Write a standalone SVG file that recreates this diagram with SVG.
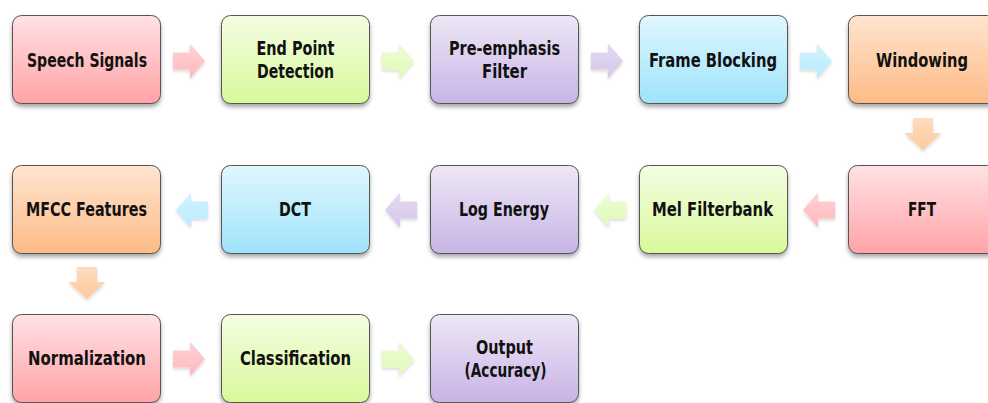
<svg xmlns="http://www.w3.org/2000/svg" width="988" height="403" viewBox="0 0 988 403">
  <defs>
    <style>
      .box { stroke: #555; stroke-width: 1; filter: url(#shadow); }
      .lbl { font-family: "DejaVu Sans Condensed", "DejaVu Sans", "Liberation Sans", sans-serif; font-weight: bold; font-size: 19px; fill: #111; text-anchor: middle; }
      .arr { filter: url(#soft); }
    </style>
    <filter id="shadow" x="-10%" y="-10%" width="120%" height="130%">
      <feDropShadow dx="0" dy="3" stdDeviation="2.2" flood-color="#000" flood-opacity="0.35"/>
    </filter>
    <filter id="soft" x="-20%" y="-20%" width="140%" height="150%">
      <feDropShadow dx="0" dy="2" stdDeviation="1.5" flood-color="#000" flood-opacity="0.15"/>
    </filter>
    <!-- box fills -->
    <linearGradient id="gPink" x1="0" y1="0" x2="0" y2="1"><stop offset="0" stop-color="#ffe1e4"/><stop offset="1" stop-color="#ffa3a6"/></linearGradient>
    <linearGradient id="gGreen" x1="0" y1="0" x2="0" y2="1"><stop offset="0" stop-color="#f4fde3"/><stop offset="1" stop-color="#d8f99a"/></linearGradient>
    <linearGradient id="gPurple" x1="0" y1="0" x2="0" y2="1"><stop offset="0" stop-color="#eee7f6"/><stop offset="1" stop-color="#c8b4e6"/></linearGradient>
    <linearGradient id="gBlue" x1="0" y1="0" x2="0" y2="1"><stop offset="0" stop-color="#e0f7fe"/><stop offset="1" stop-color="#9ee3fb"/></linearGradient>
    <linearGradient id="gOrange" x1="0" y1="0" x2="0" y2="1"><stop offset="0" stop-color="#ffe4cf"/><stop offset="1" stop-color="#fdbb86"/></linearGradient>
    <!-- arrow fills -->
    <linearGradient id="aPink" x1="0" y1="0" x2="0" y2="1"><stop offset="0" stop-color="#ffd3d6"/><stop offset="1" stop-color="#ffb8bb"/></linearGradient>
    <linearGradient id="aGreen" x1="0" y1="0" x2="0" y2="1"><stop offset="0" stop-color="#eefcd6"/><stop offset="1" stop-color="#e0fab4"/></linearGradient>
    <linearGradient id="aPurple" x1="0" y1="0" x2="0" y2="1"><stop offset="0" stop-color="#e4dbf2"/><stop offset="1" stop-color="#d4c6ec"/></linearGradient>
    <linearGradient id="aBlue" x1="0" y1="0" x2="0" y2="1"><stop offset="0" stop-color="#d2f3fe"/><stop offset="1" stop-color="#b6ecfc"/></linearGradient>
    <linearGradient id="aOrange" x1="0" y1="0" x2="0" y2="1"><stop offset="0" stop-color="#ffdcc0"/><stop offset="1" stop-color="#fdc99c"/></linearGradient>
    <!-- block arrow shapes, origin at the tail centre -->
    <path id="arrowRight" d="M0,-8.5 H17 V-17.5 L32,0 L17,17.5 V8.5 H0 Z"/>
    <path id="arrowLeft" d="M0,-8.5 H-17 V-17.5 L-32,0 L-17,17.5 V8.5 H0 Z"/>
    <path id="arrowDown" d="M-10,0 V15 H-18.5 L0,32 L18.5,15 H10 V0 Z"/>
  </defs>

  <!-- connectors -->
  <g id="connectors">
    <use href="#arrowRight" class="arr" x="173" y="61" fill="url(#aPink)"/>
    <use href="#arrowRight" class="arr" x="382" y="61" fill="url(#aGreen)"/>
    <use href="#arrowRight" class="arr" x="591" y="61" fill="url(#aPurple)"/>
    <use href="#arrowRight" class="arr" x="800" y="61" fill="url(#aBlue)"/>
    <use href="#arrowDown" class="arr" x="923" y="118" fill="url(#aOrange)"/>
    <use href="#arrowLeft" class="arr" x="835" y="210" fill="url(#aPink)"/>
    <use href="#arrowLeft" class="arr" x="626" y="210" fill="url(#aGreen)"/>
    <use href="#arrowLeft" class="arr" x="417" y="210" fill="url(#aPurple)"/>
    <use href="#arrowLeft" class="arr" x="208" y="210" fill="url(#aBlue)"/>
    <use href="#arrowDown" class="arr" x="87" y="267" fill="url(#aOrange)"/>
    <use href="#arrowRight" class="arr" x="173" y="359" fill="url(#aPink)"/>
    <use href="#arrowRight" class="arr" x="382" y="359" fill="url(#aGreen)"/>
  </g>

  <!-- row 1 -->
  <g id="speech-signals">
    <rect class="box" x="12.5" y="15.5" width="148" height="88" rx="9" fill="url(#gPink)"/>
    <text class="lbl" x="87" y="67" textLength="120" lengthAdjust="spacingAndGlyphs">Speech Signals</text>
  </g>
  <g id="end-point-detection">
    <rect class="box" x="221.5" y="15.5" width="148" height="88" rx="9" fill="url(#gGreen)"/>
    <text class="lbl" x="295.5" y="55" textLength="78" lengthAdjust="spacingAndGlyphs">End Point</text>
    <text class="lbl" x="295.5" y="78" textLength="77" lengthAdjust="spacingAndGlyphs">Detection</text>
  </g>
  <g id="pre-emphasis-filter">
    <rect class="box" x="430.5" y="15.5" width="148" height="88" rx="9" fill="url(#gPurple)"/>
    <text class="lbl" x="504.5" y="55" textLength="111" lengthAdjust="spacingAndGlyphs">Pre-emphasis</text>
    <text class="lbl" x="504.5" y="78" textLength="45" lengthAdjust="spacingAndGlyphs">Filter</text>
  </g>
  <g id="frame-blocking">
    <rect class="box" x="639.5" y="15.5" width="148" height="88" rx="9" fill="url(#gBlue)"/>
    <text class="lbl" x="713" y="67" textLength="128" lengthAdjust="spacingAndGlyphs">Frame Blocking</text>
  </g>
  <g id="windowing">
    <rect class="box" x="848.5" y="15.5" width="148" height="88" rx="9" fill="url(#gOrange)"/>
    <text class="lbl" x="922" y="67" textLength="92" lengthAdjust="spacingAndGlyphs">Windowing</text>
  </g>

  <!-- row 2 -->
  <g id="fft">
    <rect class="box" x="848.5" y="165.5" width="148" height="88" rx="9" fill="url(#gPink)"/>
    <text class="lbl" x="922" y="216" textLength="28" lengthAdjust="spacingAndGlyphs">FFT</text>
  </g>
  <g id="mel-filterbank">
    <rect class="box" x="639.5" y="165.5" width="148" height="88" rx="9" fill="url(#gGreen)"/>
    <text class="lbl" x="712.5" y="216" textLength="121" lengthAdjust="spacingAndGlyphs">Mel Filterbank</text>
  </g>
  <g id="log-energy">
    <rect class="box" x="430.5" y="165.5" width="148" height="88" rx="9" fill="url(#gPurple)"/>
    <text class="lbl" x="504" y="216" textLength="90" lengthAdjust="spacingAndGlyphs">Log Energy</text>
  </g>
  <g id="dct">
    <rect class="box" x="221.5" y="165.5" width="148" height="88" rx="9" fill="url(#gBlue)"/>
    <text class="lbl" x="295" y="216" textLength="32" lengthAdjust="spacingAndGlyphs">DCT</text>
  </g>
  <g id="mfcc-features">
    <rect class="box" x="12.5" y="165.5" width="148" height="88" rx="9" fill="url(#gOrange)"/>
    <text class="lbl" x="86.5" y="216" textLength="121" lengthAdjust="spacingAndGlyphs">MFCC Features</text>
  </g>

  <!-- row 3 -->
  <g id="normalization">
    <rect class="box" x="12.5" y="314.5" width="148" height="88" rx="9" fill="url(#gPink)"/>
    <text class="lbl" x="87" y="365" textLength="118" lengthAdjust="spacingAndGlyphs">Normalization</text>
  </g>
  <g id="classification">
    <rect class="box" x="221.5" y="314.5" width="148" height="88" rx="9" fill="url(#gGreen)"/>
    <text class="lbl" x="295.5" y="365" textLength="111" lengthAdjust="spacingAndGlyphs">Classification</text>
  </g>
  <g id="output-accuracy">
    <rect class="box" x="430.5" y="314.5" width="148" height="88" rx="9" fill="url(#gPurple)"/>
    <text class="lbl" x="504.5" y="354" textLength="57" lengthAdjust="spacingAndGlyphs">Output</text>
    <text class="lbl" transform="translate(505.5,377) scale(0.8,1)" x="0" y="0">(Accuracy)</text>
  </g>
</svg>
